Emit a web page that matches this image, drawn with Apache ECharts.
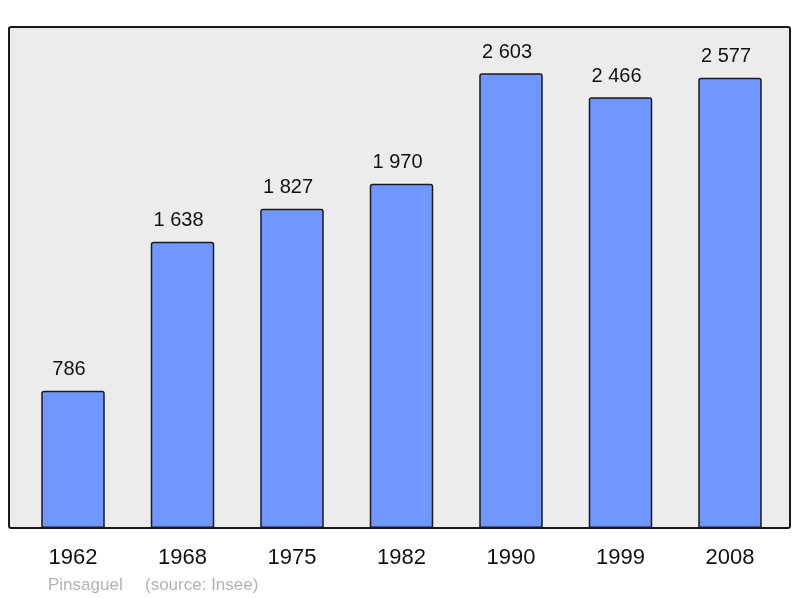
<!DOCTYPE html>
<html>
<head>
<meta charset="utf-8">
<script src="https://cdn.jsdelivr.net/npm/echarts@6/dist/echarts.min.js"></script>
<style>html,body{margin:0;padding:0;background:#fff;}#c{width:800px;height:598px;}</style>
</head>
<body>
<div id="c"></div>
<script>
var categories = ['1962', '1968', '1975', '1982', '1990', '1999', '2008'];
var population = [786, 1638, 1827, 1970, 2603, 2466, 2577];
var captionPlace = 'Pinsaguel';
var captionSource = '(source: Insee)';

function fmt(v) {
  return String(v).replace(/\B(?=(\d{3})+(?!\d))/g, ' ');
}

var chart = echarts.init(document.getElementById('c'), null, {renderer: 'canvas'});
chart.setOption({
  animation: false,
  backgroundColor: '#ffffff',
  textStyle: {fontFamily: 'Liberation Sans, Arial, sans-serif'},
  grid: {left: 18.25, right: 15.25, top: 27, bottom: 70, containLabel: false},
  graphic: [
    {
      type: 'rect', z: -10, silent: true,
      shape: {x: 9, y: 27, width: 781, height: 501, r: 2},
      style: {fill: '#ececec', stroke: 'none'}
    },
    {
      type: 'rect', z: 100, silent: true,
      shape: {x: 9, y: 27, width: 781, height: 501, r: 2},
      style: {fill: 'none', stroke: '#1a1a1a', lineWidth: 2}
    },
    {
      type: 'text', left: 48, top: 577, silent: true,
      style: {text: captionPlace, fill: '#b3b3b3', font: '17px Liberation Sans, Arial, sans-serif'}
    },
    {
      type: 'text', left: 145, top: 577, silent: true,
      style: {text: captionSource, fill: '#b3b3b3', font: '17px Liberation Sans, Arial, sans-serif'}
    }
  ],
  xAxis: {
    type: 'category',
    data: categories,
    axisLine: {show: false},
    axisTick: {show: false},
    axisLabel: {color: '#111', fontSize: 22, margin: 19, fontFamily: 'Liberation Sans, Arial, sans-serif'},
    splitLine: {show: false}
  },
  yAxis: {
    type: 'value',
    min: 0,
    max: 2868,
    show: false,
    splitLine: {show: false}
  },
  series: [{
    type: 'bar',
    data: population,
    barWidth: '58%',
    itemStyle: {color: '#7097ff', borderColor: '#1a1a1a', borderWidth: 1.5, borderRadius: [2, 2, 0, 0]},
    label: {
      show: true,
      position: 'top',
      distance: 11,
      offset: [-4, 0],
      color: '#111',
      fontSize: 20,
      fontFamily: 'Liberation Sans, Arial, sans-serif',
      formatter: function (p) { return fmt(p.value); }
    }
  }]
});
</script>
</body>
</html>
